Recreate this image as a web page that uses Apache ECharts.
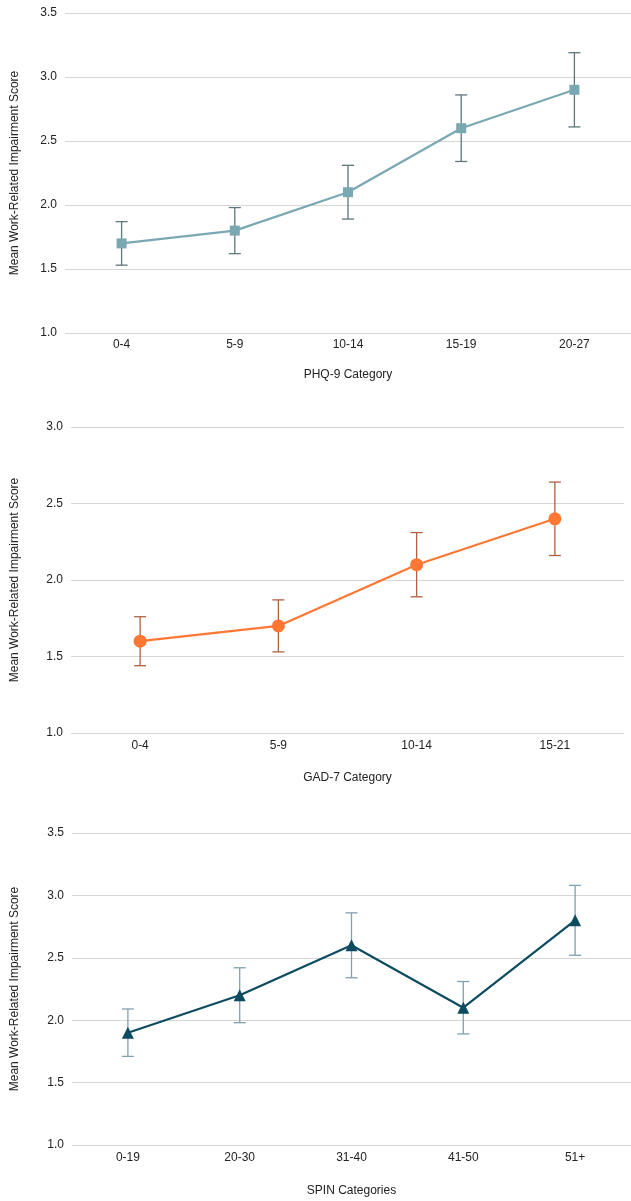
<!DOCTYPE html>
<html>
<head>
<meta charset="utf-8">
<script src="https://cdn.jsdelivr.net/npm/echarts@6/dist/echarts.min.js"></script>
<style>
  html, body { margin: 0; padding: 0; background: #ffffff; }
  #chart { width: 631px; height: 1201px; }
</style>
</head>
<body>
<div id="chart"></div>
<script>
// PHQ-9 panel
const phqCategories = ['0-4', '5-9', '10-14', '15-19', '20-27'];
const phqMeans = [1.7, 1.8, 2.1, 2.6, 2.9];
const phqLow = [1.53, 1.62, 1.89, 2.34, 2.61];
const phqHigh = [1.87, 1.98, 2.31, 2.86, 3.19];

// GAD-7 panel
const gadCategories = ['0-4', '5-9', '10-14', '15-21'];
const gadMeans = [1.6, 1.7, 2.1, 2.4];
const gadLow = [1.44, 1.53, 1.89, 2.16];
const gadHigh = [1.76, 1.87, 2.31, 2.64];

// SPIN panel
const spinCategories = ['0-19', '20-30', '31-40', '41-50', '51+'];
const spinMeans = [1.9, 2.2, 2.6, 2.1, 2.8];
const spinLow = [1.71, 1.98, 2.34, 1.89, 2.52];
const spinHigh = [2.09, 2.42, 2.86, 2.31, 3.08];

const yTitle = 'Mean Work-Related Impairment Score';
const FONT = '"Liberation Sans", Arial, sans-serif';
const TEXT = '#222222';
const GRIDLINE = '#d6d6d6';

const panels = [
  { cats: phqCategories, mean: phqMeans, low: phqLow, high: phqHigh, xTitle: 'PHQ-9 Category',
    yMax: 3.5, grid: { left: 65, top: 13, width: 573, height: 320 }, yGap: 44, xGap: 36, labelMargin: 6,
    line: '#79a8b3', err: '#5e767c', symbol: 'rect', symbolSize: 10 },
  { cats: gadCategories, mean: gadMeans, low: gadLow, high: gadHigh, xTitle: 'GAD-7 Category',
    yMax: 3.0, grid: { left: 71, top: 427, width: 553, height: 306 }, yGap: 50, xGap: 39, labelMargin: 7,
    line: '#ff7733', err: '#b0603f', symbol: 'circle', symbolSize: 13 },
  { cats: spinCategories, mean: spinMeans, low: spinLow, high: spinHigh, xTitle: 'SPIN Categories',
    yMax: 3.5, grid: { left: 72, top: 833, width: 563, height: 312 }, yGap: 51, xGap: 40, labelMargin: 7,
    line: '#0d4b61', err: '#7fa2b0', symbol: 'triangle', symbolSize: 12 }
];

const grids = [], xAxes = [], yAxes = [], series = [];

panels.forEach((p, i) => {
  grids.push(Object.assign({ containLabel: false }, p.grid));
  xAxes.push({
    type: 'category', gridIndex: i, data: p.cats, boundaryGap: true,
    name: p.xTitle, nameLocation: 'middle', nameGap: p.xGap,
    nameTextStyle: { color: TEXT, fontFamily: FONT, fontSize: 12 },
    axisLine: { show: false }, axisTick: { show: false },
    axisLabel: { color: TEXT, fontFamily: FONT, fontSize: 12, margin: p.labelMargin }
  });
  yAxes.push({
    type: 'value', gridIndex: i, min: 1.0, max: p.yMax, interval: 0.5,
    name: yTitle, nameLocation: 'middle', nameGap: p.yGap, nameRotate: 90,
    nameTextStyle: { color: TEXT, fontFamily: FONT, fontSize: 12 },
    axisLine: { show: false }, axisTick: { show: false },
    axisLabel: { color: TEXT, fontFamily: FONT, fontSize: 12, margin: 8,
      formatter: v => v.toFixed(1) },
    splitLine: { show: true, lineStyle: { color: GRIDLINE, width: 1.2 } }
  });

  // error bars with caps
  series.push({
    type: 'custom', xAxisIndex: i, yAxisIndex: i, z: 2, silent: true,
    data: p.cats.map((c, k) => [k, p.low[k], p.high[k]]),
    renderItem: function (params, api) {
      const lo = api.coord([api.value(0), api.value(1)]);
      const hi = api.coord([api.value(0), api.value(2)]);
      const half = 6;
      const style = { stroke: p.err, lineWidth: 1.3 };
      return {
        type: 'group',
        children: [
          { type: 'line', shape: { x1: hi[0], y1: hi[1], x2: lo[0], y2: lo[1] }, style: style },
          { type: 'line', shape: { x1: hi[0] - half, y1: hi[1], x2: hi[0] + half, y2: hi[1] }, style: style },
          { type: 'line', shape: { x1: lo[0] - half, y1: lo[1], x2: lo[0] + half, y2: lo[1] }, style: style }
        ]
      };
    }
  });

  // mean line with markers
  series.push({
    type: 'line', xAxisIndex: i, yAxisIndex: i, z: 3, data: p.mean,
    symbol: p.symbol, symbolSize: p.symbolSize, showAllSymbol: true,
    lineStyle: { color: p.line, width: 2.2 },
    itemStyle: { color: p.line, borderWidth: 0 },
    animation: false
  });
});

const chart = echarts.init(document.getElementById('chart'), null, { renderer: 'canvas' });
chart.setOption({
  animation: false,
  backgroundColor: '#ffffff',
  grid: grids,
  xAxis: xAxes,
  yAxis: yAxes,
  series: series
});
</script>
</body>
</html>
